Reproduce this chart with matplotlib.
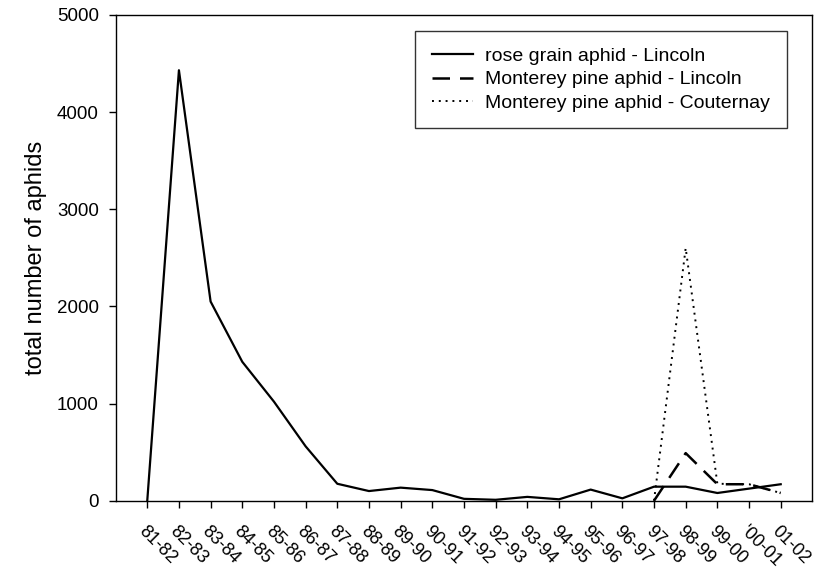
import matplotlib
matplotlib.use("Agg")
import matplotlib.pyplot as plt

plt.rcParams['font.family'] = ['Liberation Sans', 'DejaVu Sans']

seasons = ["81-82", "82-83", "83-84", "84-85", "85-86", "86-87", "87-88", "88-89",
           "89-90", "90-91", "91-92", "92-93", "93-94", "94-95", "95-96", "96-97",
           "97-98", "98-99", "99-00", "'00-01", "01-02"]

rose_lincoln = [0, 4430, 2050, 1430, 1020, 560, 175, 100, 135, 110, 20, 10, 40, 15,
                115, 25, 145, 145, 80, 125, 170]

pine_seasons = ["97-98", "98-99", "99-00", "'00-01", "01-02"]
pine_lincoln = [0, 490, 170, 170, 80]
pine_couternay = [0, 2600, 175, 170, 80]

fig = plt.figure(figsize=(8.14, 5.71), dpi=100)
ax = fig.add_axes([0.142, 0.123, 0.856, 0.851])

x_all = list(range(len(seasons)))
x_pine = [seasons.index(s) for s in pine_seasons]

ax.plot(x_all, rose_lincoln, color='black', lw=1.6, ls='-', label='rose grain aphid - Lincoln')
ax.plot(x_pine, pine_lincoln, color='black', lw=1.8, ls=(0, (7, 4)), label='Monterey pine aphid - Lincoln')
ax.plot(x_pine, pine_couternay, color='black', lw=1.4, ls=(0, (1, 2.5)), label='Monterey pine aphid - Couternay')

ax.set_xlim(-1, len(seasons))
ax.set_ylim(0, 5000)
ax.set_yticks([0, 1000, 2000, 3000, 4000, 5000])
ax.set_xticks(x_all)
ax.set_xticklabels(seasons, rotation=-45, ha='left', va='top', rotation_mode='anchor')
ax.tick_params(axis='y', direction='out', length=5, width=1, labelsize=13.5, pad=7)
ax.tick_params(axis='x', direction='out', length=5, width=1, labelsize=13, pad=11)
for s in ax.spines.values():
    s.set_linewidth(1.0)

ax.set_ylabel('total number of aphids', fontsize=17, labelpad=7)

leg = ax.legend(loc='upper right', bbox_to_anchor=(0.963, 0.967), fontsize=14,
                frameon=True, fancybox=False, edgecolor='black', handlelength=2.1,
                handletextpad=0.65, borderpad=0.85, labelspacing=0.3, borderaxespad=0)
leg.get_frame().set_linewidth(1.0)

fig.savefig('out.png', dpi=100)
